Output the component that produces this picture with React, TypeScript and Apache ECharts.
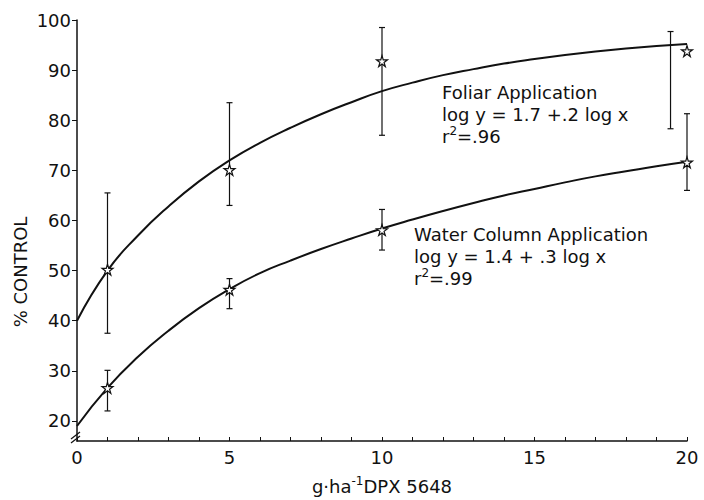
import React, { useEffect, useRef } from "react";
import * as echarts from "echarts";

// Observed data (stars)
const doseX = [1, 5, 10, 20];
const foliarMean = [50.2, 70.1, 91.8, 93.8];
const waterMean = [26.6, 46.2, 58.1, 71.6];

// Error bars [x, low, high]
const foliarBarX = [1, 5, 10, 19.46];
const foliarLow = [37.5, 63.0, 77.0, 78.3];
const foliarHigh = [65.5, 83.5, 98.5, 97.7];
const waterBarX = [1, 5, 10, 20];
const waterLow = [22.0, 42.4, 54.1, 66.0];
const waterHigh = [30.1, 48.4, 62.2, 81.3];

// Fitted curves
const curveX = [0, 1, 2, 3, 4, 5, 6, 7, 8, 9, 10, 11, 12, 13, 14, 15, 16, 17, 18, 19, 20];
const foliarCurve = [
  40, 50, 57, 62.8, 67.8, 72, 75.5, 78.5, 81.2, 83.6, 85.8, 87.5, 89, 90.2, 91.3, 92.2, 93, 93.7,
  94.3, 94.8, 95.2,
];
const waterCurve = [
  19, 26.6, 32.8, 38, 42.5, 46.3, 49.5, 52, 54.3, 56.4, 58.4, 60.2, 61.9, 63.5, 65, 66.3, 67.6,
  68.8, 69.8, 70.8, 71.7,
];

const yTicks = [20, 30, 40, 50, 60, 70, 80, 90, 100];
const xLabels = [0, 5, 10, 15, 20];

const FONT = "DejaVu Sans";
const STAR =
  "path://M50,0 L61,35 L98,35 L68,57 L79,91 L50,70 L21,91 L32,57 L2,35 L39,35 Z";

function errorBarRender(params: any, api: any) {
  const x = api.value(0);
  const lo = api.coord([x, api.value(1)]);
  const hi = api.coord([x, api.value(2)]);
  const cap = 3;
  const st = { stroke: "#111", lineWidth: 1.2 };
  return {
    type: "group",
    children: [
      { type: "line", shape: { x1: lo[0], y1: lo[1], x2: hi[0], y2: hi[1] }, style: st },
      { type: "line", shape: { x1: lo[0] - cap, y1: lo[1], x2: lo[0] + cap, y2: lo[1] }, style: st },
      { type: "line", shape: { x1: hi[0] - cap, y1: hi[1], x2: hi[0] + cap, y2: hi[1] }, style: st },
    ],
  };
}

export default function App() {
  const ref = useRef<HTMLDivElement>(null);
  useEffect(() => {
    if (!ref.current) return;
    const chart = echarts.init(ref.current, null, { renderer: "svg" });
    const textStyle = { fontFamily: FONT, fontSize: 18, color: "#111" };
    const option: any = {
      animation: false,
      backgroundColor: "#fff",
      grid: { left: 77, right: 17, top: 20, bottom: 54 },
      xAxis: {
        type: "value",
        min: 0,
        max: 20,
        interval: 1,
        axisLine: { show: true, lineStyle: { color: "#111", width: 1.5 } },
        axisTick: { show: true, inside: true, length: 4, lineStyle: { color: "#111" } },
        splitLine: { show: false },
        axisLabel: { ...textStyle, margin: 7, customValues: xLabels },
        name: "g·ha{sup|-1}DPX 5648",
        nameLocation: "middle",
        nameGap: 34,
        nameTextStyle: {
          ...textStyle,
          rich: {
            sup: { fontFamily: FONT, fontSize: 12, color: "#111", verticalAlign: "top", padding: [0, 0, 10, 0] },
          },
        },
      },
      yAxis: {
        type: "value",
        min: 16,
        max: 100,
        axisLine: { show: true, lineStyle: { color: "#111", width: 1.5 } },
        axisTick: { show: true, inside: false, length: 5, customValues: yTicks, lineStyle: { color: "#111" } },
        splitLine: { show: false },
        axisLabel: { ...textStyle, margin: 6, customValues: yTicks },
      },
      series: [
        {
          name: "Foliar curve",
          type: "line",
          smooth: true,
          showSymbol: false,
          data: curveX.map((x, i) => [x, foliarCurve[i]]),
          lineStyle: { color: "#111", width: 2 },
          z: 2,
        },
        {
          name: "Water curve",
          type: "line",
          smooth: true,
          showSymbol: false,
          data: curveX.map((x, i) => [x, waterCurve[i]]),
          lineStyle: { color: "#111", width: 2 },
          z: 2,
        },
        {
          name: "Foliar error",
          type: "custom",
          renderItem: errorBarRender,
          data: foliarBarX.map((x, i) => [x, foliarLow[i], foliarHigh[i]]),
          clip: false,
          z: 3,
        },
        {
          name: "Water error",
          type: "custom",
          renderItem: errorBarRender,
          data: waterBarX.map((x, i) => [x, waterLow[i], waterHigh[i]]),
          clip: false,
          z: 3,
        },
        {
          name: "Foliar",
          type: "scatter",
          symbol: STAR,
          symbolSize: 11,
          data: doseX.map((x, i) => [x, foliarMean[i]]),
          itemStyle: { color: "#fff", borderColor: "#111", borderWidth: 1.2, opacity: 1 },
          clip: false,
          z: 4,
        },
        {
          name: "Water",
          type: "scatter",
          symbol: STAR,
          symbolSize: 11,
          data: doseX.map((x, i) => [x, waterMean[i]]),
          itemStyle: { color: "#fff", borderColor: "#111", borderWidth: 1.2, opacity: 1 },
          clip: false,
          z: 4,
        },
      ],
    };
    chart.setOption(option);

    const p0 = chart.convertToPixel({ gridIndex: 0 }, [0, 17]) as number[];
    const supRich = {
      sup: { fontFamily: FONT, fontSize: 12, fill: "#111", verticalAlign: "top", padding: [0, 0, 8, 0] },
    };
    chart.setOption({
      graphic: [
        {
          type: "text",
          x: 20,
          y: 272,
          rotation: Math.PI / 2,
          style: {
            text: "% CONTROL",
            fontFamily: FONT,
            fontSize: 18,
            fill: "#111",
            align: "center",
            verticalAlign: "middle",
          },
        },
        {
          type: "text",
          left: 442,
          top: 81,
          style: {
            text: "Foliar Application\nlog y = 1.7 +.2 log x\nr{sup|2}=.96",
            fontFamily: FONT,
            fontSize: 18,
            lineHeight: 22,
            fill: "#111",
            rich: supRich,
          },
        },
        {
          type: "text",
          left: 414,
          top: 223,
          style: {
            text: "Water Column Application\nlog y = 1.4 + .3 log x\nr{sup|2}=.99",
            fontFamily: FONT,
            fontSize: 18,
            lineHeight: 22,
            fill: "#111",
            rich: supRich,
          },
        },
        {
          type: "line",
          shape: { x1: p0[0] - 6, y1: p0[1] + 3, x2: p0[0] + 3, y2: p0[1] - 4 },
          style: { stroke: "#111", lineWidth: 1.2 },
        },
        {
          type: "line",
          shape: { x1: p0[0] - 6, y1: p0[1] + 7, x2: p0[0] + 3, y2: p0[1] },
          style: { stroke: "#111", lineWidth: 1.2 },
        },
      ],
    });
    return () => chart.dispose();
  }, []);
  return (
    <div
      ref={ref}
      style={{ position: "fixed", left: 0, top: 0, width: 704, height: 500 }}
    />
  );
}
